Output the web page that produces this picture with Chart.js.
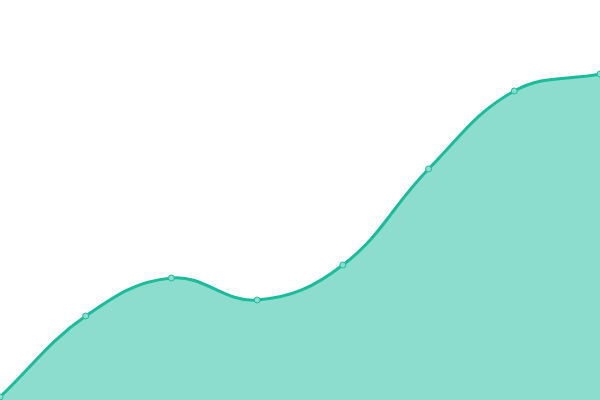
<!DOCTYPE html>
<html><head><meta charset="utf-8">
<script src="https://cdn.jsdelivr.net/npm/chart.js@4"></script>
<style>html,body{margin:0;padding:0;background:#fff}#wrap{width:600px;height:400px}</style>
</head><body><div id="wrap"><canvas id="c"></canvas></div>
<script>
const labels = ['1','2','3','4','5','6','7','8'];
const values = [3, 84, 122, 100, 135, 231, 309, 326];
new Chart(document.getElementById('c'), {
  type: 'line',
  data: { labels: labels, datasets: [{
    data: values,
    fill: 'origin',
    backgroundColor: 'rgba(26,188,156,0.5)',
    borderColor: '#1abc9c',
    borderWidth: 3,
    tension: 0.4,
    pointRadius: 3,
    pointBackgroundColor: 'rgba(140,221,205,1)',
    pointBorderColor: '#1abc9c',
    pointBorderWidth: 1
  }]},
  options: {
    responsive: true, maintainAspectRatio: false, animation: false,
    layout: { padding: 0, autoPadding: false },
    plugins: { legend: { display: false }, tooltip: { enabled: false } },
    scales: {
      x: { display: false, offset: false },
      y: { display: false, min: 0, max: 400 }
    }
  }
});
</script></body></html>
